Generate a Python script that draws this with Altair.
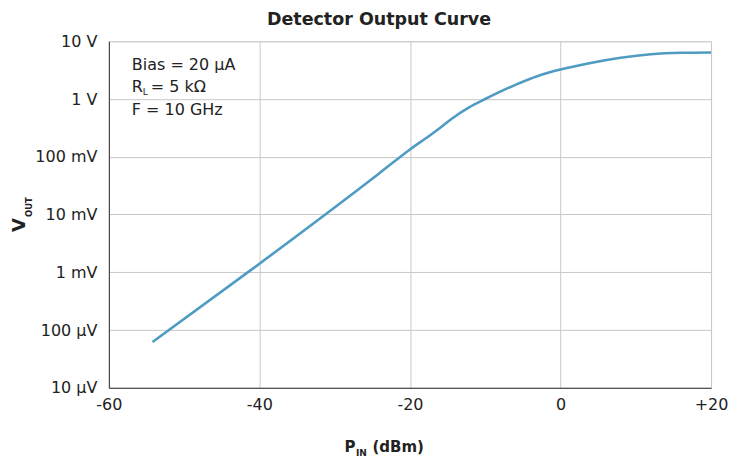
import altair as alt
import pandas as pd

# ---- data ----
pin_dbm = [-54.2, -41.1, -24.1, -20.0, -17.5, -16.1, -14.4, -12.2, -10.0,
           -6.0, -3.0, 0.0, 4.0, 8.0, 12.0, 16.0, 20.0]
vout_v = [6.2e-5, 1.1e-3, 0.0514, 0.134, 0.227, 0.309, 0.46, 0.71, 1.00,
          1.76, 2.51, 3.24, 4.22, 5.19, 5.96, 6.31, 6.40]

x_ticks = [-60, -40, -20, 0, 20]
y_ticks = [1e-5, 1e-4, 1e-3, 1e-2, 1e-1, 1, 10]

title_text = "Detector Output Curve"
note_bias = "Bias = 20 µA"
note_r_main = "R"
note_r_sub = "L"
note_r_rest = "= 5 kΩ"
note_f = "F = 10 GHz"

df = pd.DataFrame({"pin": pin_dbm, "vout": vout_v})

FONT = "DejaVu Sans"
TXT = "#222222"

y_label_expr = (
    "datum.value >= 0.999 ? round(datum.value) + ' V' : "
    "datum.value >= 0.000999 ? round(datum.value * 1000) + ' mV' : "
    "round(datum.value * 1000000) + ' µV'"
)

line = alt.Chart(df).mark_line(
    color="#4f9bc1", strokeWidth=2.6, interpolate="monotone"
).encode(
    x=alt.X("pin:Q",
            scale=alt.Scale(domain=[-60, 20], nice=False, zero=False),
            axis=alt.Axis(values=x_ticks, title=None, ticks=False,
                          labelExpr="datum.value > 0 ? '+' + datum.value : '' + datum.value",
                          labelPadding=9, labelFontSize=16, labelFont=FONT,
                          labelColor=TXT, gridColor="#c8c8c8",
                          domainColor="#333333", labelFlush=False)),
    y=alt.Y("vout:Q",
            scale=alt.Scale(type="log", domain=[1e-5, 10], nice=False),
            axis=alt.Axis(values=y_ticks, title=None, ticks=False,
                          labelExpr=y_label_expr, labelPadding=12,
                          labelFontSize=16, labelFont=FONT, labelColor=TXT,
                          gridColor="#c8c8c8", domainColor="#333333")),
)


def note(text, x, y, size=16, weight="normal", angle=0, align="left"):
    return alt.Chart(alt.Data(values=[{"t": text}])).mark_text(
        font=FONT, fontSize=size, fontWeight=weight, color=TXT,
        align=align, baseline="alphabetic", angle=angle,
    ).encode(text="t:N", x=alt.value(x), y=alt.value(y))


layers = [
    line,
    note(note_bias, 23, 29),
    note(note_r_main, 23, 50.5),
    note(note_r_sub, 34, 54, size=9),
    note(note_r_rest, 42, 50.5),
    note(note_f, 23, 73.5),
    # x-axis title  P_IN (dBm)
    note("P", 236, 411, size=15, weight="bold"),
    note("IN", 247.5, 415.5, size=9, weight="bold"),
    note("(dBm)", 264, 411, size=15, weight="bold"),
    # y-axis title  V_OUT (rotated)
    note("V", -84, 184, size=18, weight="bold", angle=270, align="center"),
    note("OUT", -77, 166, size=8.5, weight="bold", angle=270, align="center"),
]

chart = alt.layer(*layers).properties(
    width=603,
    height=347,
    title=alt.TitleParams(title_text, font=FONT, fontSize=17.5,
                          fontWeight="bold", color=TXT, anchor="middle",
                          frame="group", dx=-31, offset=5),
    autosize=alt.AutoSizeParams(type="none"),
    padding={"left": 101, "top": 33, "right": 30, "bottom": 78},
).configure_view(
    stroke="#333333", strokeWidth=1
).configure(background="white")

chart.save("out.html", embed_options={"renderer": "svg", "actions": False})
